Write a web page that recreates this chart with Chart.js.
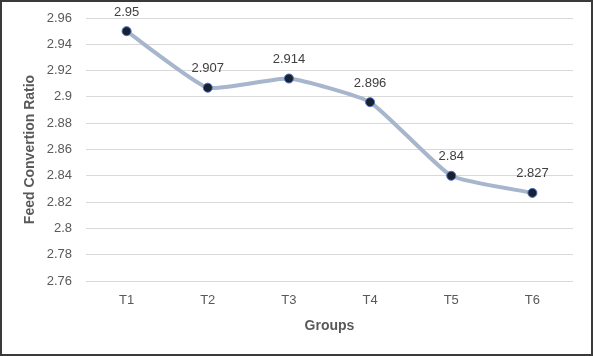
<!DOCTYPE html>
<html>
<head>
<meta charset="utf-8">
<script src="https://cdn.jsdelivr.net/npm/chart.js@4"></script>
<style>
html,body{margin:0;padding:0;background:#fff;}
canvas{display:block;}
</style>
</head>
<body>
<canvas id="c" width="593" height="356"></canvas>
<script>
const categories = ["T1", "T2", "T3", "T4", "T5", "T6"];
const fcrValues = [2.95, 2.907, 2.914, 2.896, 2.84, 2.827];
const yTickValues = [2.76, 2.78, 2.8, 2.82, 2.84, 2.86, 2.88, 2.9, 2.92, 2.94, 2.96];
const dataLabels = ["2.95", "2.907", "2.914", "2.896", "2.84", "2.827"];

const FONT = "'Liberation Sans', Arial, sans-serif";

const frame = {
  id: 'frame',
  beforeDraw(chart) {
    const ctx = chart.ctx;
    ctx.save();
    ctx.fillStyle = '#ffffff';
    ctx.fillRect(0, 0, chart.width, chart.height);
    ctx.restore();
  },
  afterDraw(chart) {
    const ctx = chart.ctx;
    ctx.save();
    ctx.strokeStyle = '#3a3a3a';
    ctx.lineWidth = 2;
    ctx.strokeRect(1, 1, chart.width - 2, chart.height - 2);
    ctx.restore();
  }
};

const labelsPlugin = {
  id: 'valueLabels',
  afterDatasetsDraw(chart) {
    const ctx = chart.ctx;
    const meta = chart.getDatasetMeta(0);
    ctx.save();
    ctx.font = "13px " + FONT;
    ctx.fillStyle = '#404040';
    ctx.textAlign = 'center';
    ctx.textBaseline = 'middle';
    meta.data.forEach((pt, i) => {
      ctx.fillText(dataLabels[i], pt.x, pt.y - 19);
    });
    ctx.restore();
  }
};

new Chart(document.getElementById('c'), {
  type: 'line',
  data: {
    labels: categories,
    datasets: [{
      data: fcrValues,
      borderColor: '#A7B6CC',
      borderWidth: 4,
      tension: 0.15,
      pointRadius: 4.5,
      pointBackgroundColor: '#1b2030',
      pointBorderColor: '#4472C4',
      pointBorderWidth: 1,
      clip: false
    }]
  },
  options: {
    responsive: false,
    animation: false,
    devicePixelRatio: 1,
    layout: { padding: { left: 0, right: 20, top: 18, bottom: 0 } },
    plugins: { legend: { display: false }, tooltip: { enabled: false } },
    scales: {
      x: {
        offset: true,
        grid: { display: false, drawTicks: false },
        border: { display: false },
        ticks: { color: '#595959', font: { family: FONT, size: 13 }, padding: 12 },
        title: { display: true, text: 'Groups', color: '#595959',
                 font: { family: FONT, size: 14, weight: 'bold' }, padding: { top: 0, bottom: 21 } },
        afterFit(scale) { scale.height = 75; scale.paddingLeft = 0; scale.paddingRight = 0; }
      },
      y: {
        min: 2.76, max: 2.96,
        afterBuildTicks(scale) { scale.ticks = yTickValues.map(v => ({ value: v })); },
        grid: { color: '#d9d9d9', lineWidth: 1, drawTicks: false },
        border: { display: false },
        ticks: {
          color: '#595959', font: { family: FONT, size: 13 }, padding: 14,
          callback: (v) => String(parseFloat(Number(v).toFixed(2)))
        },
        title: { display: true, text: 'Feed Convertion Ratio', color: '#595959',
                 font: { family: FONT, size: 14, weight: 'bold' }, padding: { top: 22, bottom: 0 } },
        afterFit(scale) { scale.width = 86; scale.paddingTop = 0; scale.paddingBottom = 0; }
      }
    }
  },
  plugins: [frame, labelsPlugin]
});
</script>
</body>
</html>
